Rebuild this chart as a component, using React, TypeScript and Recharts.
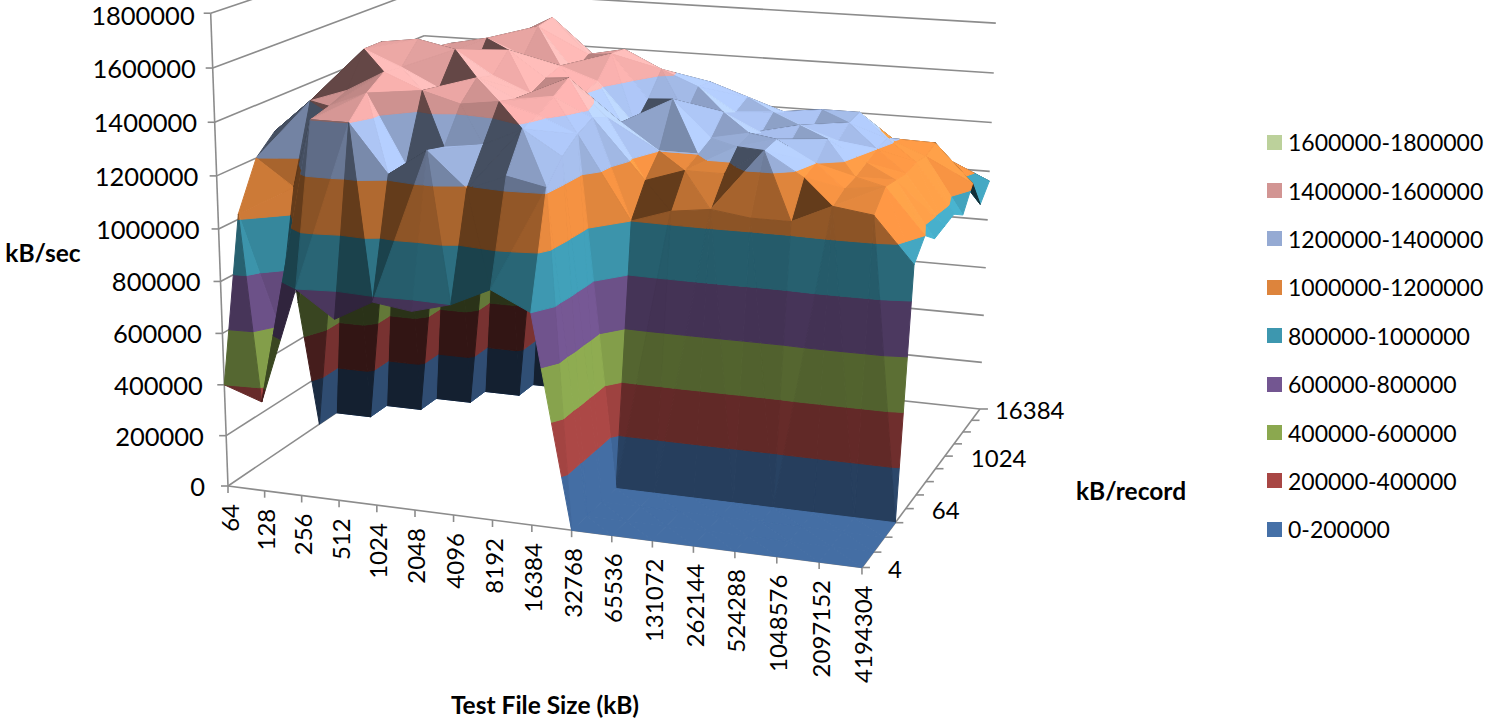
import React from "react";
import { ScatterChart, Scatter, XAxis, YAxis, Legend } from "recharts";

const WIDTH = 1486;
const HEIGHT = 720;
const FONT = "Lato, Carlito, sans-serif";

const fileSizes = ["64", "128", "256", "512", "1024", "2048", "4096", "8192", "16384", "32768", "65536", "131072", "262144", "524288", "1048576", "2097152", "4194304"];
const recordLabels = ["4", "64", "1024", "16384"];
const recordLabelSteps = [0, 4, 8, 12];
const valueTicks = [0, 200000, 400000, 600000, 800000, 1000000, 1200000, 1400000, 1600000, 1800000];

// kB/sec per file size, one list per record size
const rec4 = [400000, 350000, 800000, 700000, 780000, 760000, 800000, 870000, 800000, 0, 0, 0, 0, 0, 0, 0, 0];
const rec8 = [1020000, 600000, 1400000, 1400000, 1220000, 1320000, 1190000, 1250000, 1220000, 0, 0, 0, 0, 0, 0, 0, 0];
const rec16 = [1200000, 1100000, 1420000, 1480000, 1220000, 1300000, 1320000, 1390000, 1300000, 0, 0, 0, 0, 0, 0, 0, 0];
const rec32 = [1270000, 1400000, 1450000, 1530000, 1470000, 1430000, 1450000, 1410000, 1350000, 0, 0, 0, 0, 0, 0, 0, 0];
const rec64 = [550000, 1430000, 1580000, 1520000, 1450000, 1500000, 1430000, 1450000, 1380000, 1000000, 1050000, 1070000, 1050000, 1050000, 1120000, 1100000, 930000];
const rec128 = [0, 1450000, 1580000, 1600000, 1570000, 1480000, 1420000, 1490000, 1350000, 1120000, 1170000, 1170000, 1270000, 1180000, 1150000, 1170000, 1000000];
const rec256 = [0, 0, 1500000, 1500000, 1440000, 1550000, 1450000, 1400000, 1300000, 1200000, 1200000, 1240000, 1280000, 1200000, 1160000, 1160000, 950000];
const rec512 = [0, 0, 0, 1530000, 1560000, 1500000, 1470000, 1420000, 1260000, 1370000, 1230000, 1260000, 1220000, 1260000, 1180000, 1150000, 960000];
const rec1024 = [0, 0, 0, 0, 1520000, 1590000, 1420000, 1500000, 1330000, 1280000, 1300000, 1230000, 1270000, 1220000, 1200000, 1160000, 970000];
const rec2048 = [0, 0, 0, 0, 0, 1600000, 1460000, 1490000, 1420000, 1360000, 1270000, 1280000, 1220000, 1260000, 1210000, 1150000, 930000];
const rec4096 = [0, 0, 0, 0, 0, 0, 1400000, 1420000, 1350000, 1350000, 1300000, 1250000, 1270000, 1270000, 1150000, 1170000, 1020000];
const rec8192 = [0, 0, 0, 0, 0, 0, 0, 1300000, 1250000, 1200000, 1200000, 1150000, 1150000, 1150000, 1100000, 1080000, 900000];
const rec16384 = [0, 0, 0, 0, 0, 0, 0, 0, 1100000, 1100000, 1080000, 1070000, 1050000, 1050000, 1020000, 1000000, 960000];
const surface = [rec4, rec8, rec16, rec32, rec64, rec128, rec256, rec512, rec1024, rec2048, rec4096, rec8192, rec16384];

const bandLabels = ["0-200000", "200000-400000", "400000-600000", "600000-800000", "800000-1000000", "1000000-1200000", "1200000-1400000", "1400000-1600000", "1600000-1800000"];
const bandColors = ["#4570a7", "#a84644", "#8ba84f", "#735691", "#3d97af", "#dd843c", "#95aad3", "#d29593", "#bcd19b"];
// the surface is a bit stronger than the legend swatches in the upper bands
const bandGain = [0.96, 1, 1, 1, 1.04, 1.08, 1.1, 1.13, 1.13];

// camera of the 3d box, fitted on the corners of the floor and the wall ticks
const FLOOR = { x0: 228, y0: 486, ax: 565.4, bx: 272.9, ay: 36.36, by: -77.32, g: -0.07954, i: 0.16767 };
const RISE = { x: -15.1, y: -263, w: -0.026 };

type P3 = { u: number; v: number; h: number };
type P2 = { x: number; y: number };

function project({ u, v, h }: P3): P2 {
  const m = h / 1000000;
  const w = 1 + FLOOR.g * u + FLOOR.i * v + RISE.w * m;
  return {
    x: (FLOOR.x0 + FLOOR.ax * u + FLOOR.bx * v + RISE.x * m) / w,
    y: (FLOOR.y0 + FLOOR.ay * u + FLOOR.by * v + RISE.y * m) / w,
  };
}

function clipBand(tri: P3[], lo: number, hi: number) {
  const cut = (poly: P3[], inside: (p: P3) => boolean, level: number) => {
    const out: P3[] = [];
    poly.forEach((a, n) => {
      const b = poly[(n + 1) % poly.length];
      if (inside(a)) out.push(a);
      if (inside(a) !== inside(b)) {
        const t = (level - a.h) / (b.h - a.h);
        out.push({ u: a.u + (b.u - a.u) * t, v: a.v + (b.v - a.v) * t, h: level });
      }
    });
    return out;
  };
  let poly = cut(tri, (p) => p.h >= lo, lo);
  if (poly.length) poly = cut(poly, (p) => p.h <= hi, hi);
  return poly;
}

function tint(color: string, f: number) {
  const n = parseInt(color.slice(1), 16);
  const ch = (v: number) => Math.min(255, Math.round(v * f));
  return `rgb(${ch(n >> 16)},${ch((n >> 8) & 255)},${ch(n & 255)})`;
}

function faceLight(tri: P3[]) {
  const [a, b, c] = tri;
  const d1 = [b.u - a.u, (b.v - a.v) * 0.75, ((b.h - a.h) / 1000000) * 0.33];
  const d2 = [c.u - a.u, (c.v - a.v) * 0.75, ((c.h - a.h) / 1000000) * 0.33];
  const n = [d1[1] * d2[2] - d1[2] * d2[1], d1[2] * d2[0] - d1[0] * d2[2], d1[0] * d2[1] - d1[1] * d2[0]];
  const len = Math.hypot(n[0], n[1], n[2]) || 1;
  const nx = n[0] / len;
  const ny = n[1] / len;
  const dot = nx * 0.55 + ny * 0.25 + (n[2] / len) * 0.8;
  const pa = project(a);
  const pb = project(b);
  const pc = project(c);
  const front = (pb.x - pa.x) * (pc.y - pa.y) - (pb.y - pa.y) * (pc.x - pa.x) < 0;
  if (!front) return 0.3 + 2.5 * Math.max(0, -dot - 0.28);
  // faces tilted away from the light on both axes fall into shadow
  if (nx < 0 && ny < 0 && nx * ny > 0.09) return 0.42;
  return Math.max(0.58 + 0.45 * Math.abs(nx), 0.42 + 0.75 * dot);
}

type Face = { size: number; fill: string };
const faces: Face[] = [];
const facePoints: P2[] = [];

function addTriangle(tri: P3[]) {
  const light = faceLight(tri);
  bandColors.forEach((color, b) => {
    const poly = clipBand(tri, b * 200000, (b + 1) * 200000);
    if (poly.length < 3) return;
    faces.push({ size: poly.length, fill: tint(color, light * bandGain[b]) });
    poly.forEach((p) => facePoints.push(project(p)));
  });
}

const vertex = (i: number, j: number): P3 => ({ u: i / 16, v: j / 12, h: surface[j][i] });
const CENTER = 9;
const columnOrder = fileSizes
  .slice(1)
  .map((_, i) => i)
  .sort((a, b) => Math.abs(b + 0.5 - CENTER) - Math.abs(a + 0.5 - CENTER));

for (let j = surface.length - 2; j >= 0; j--) {
  columnOrder.forEach((i) => {
    // each cell is split along its higher diagonal
    const a = vertex(i, j);
    const b = vertex(i + 1, j);
    const c = vertex(i + 1, j + 1);
    const d = vertex(i, j + 1);
    if (b.h + d.h >= a.h + c.h) {
      addTriangle([b, c, d]);
      addTriangle([a, b, d]);
    } else {
      addTriangle([a, c, d]);
      addTriangle([a, b, c]);
    }
  });
}

const framePoints: P2[] = [];
const seg = (a: P2, b: P2) => framePoints.push(a, b);
const shift = (p: P2, dx: number, dy: number) => ({ x: p.x + dx, y: p.y + dy });

valueTicks.forEach((t) => {
  const front = project({ u: 0, v: 0, h: t });
  const rear = project({ u: 0, v: 1, h: t });
  const right = project({ u: 1, v: 1, h: t });
  seg(front, rear);
  seg(rear, right);
  seg(shift(front, -7, 0), front);
});
seg(project({ u: 0, v: 0, h: 0 }), project({ u: 0, v: 0, h: 1800000 }));
seg(project({ u: 0, v: 0, h: 0 }), project({ u: 1, v: 0, h: 0 }));
seg(project({ u: 1, v: 0, h: 0 }), project({ u: 1, v: 1, h: 0 }));
fileSizes.forEach((_, i) => {
  const p = project({ u: i / 16, v: 0, h: 0 });
  seg(p, shift(p, 0, 7));
});
surface.forEach((_, j) => {
  const p = project({ u: 1, v: j / 12, h: 0 });
  seg(p, shift(p, 8, 0));
});

type Caption = P2 & { text: string; kind: string };
const captions: Caption[] = [
  ...valueTicks.map((t) => ({
    ...shift(project({ u: 0, v: 0, h: t }), -23 + (7 * t) / 1800000, t === 1800000 ? 2 : 0),
    text: String(t),
    kind: "value",
  })),
  ...fileSizes.map((f, i) => ({ ...shift(project({ u: i / 16, v: 0, h: 0 }), 1, 18), text: f, kind: "file" })),
  ...recordLabels.map((r, n) => ({
    ...shift(project({ u: 1, v: recordLabelSteps[n] / 12, h: 0 }), n === 3 ? 15 : 26, 1),
    text: r,
    kind: "record",
  })),
  { x: 43, y: 252, text: "kB/sec", kind: "title" },
  { x: 545, y: 704, text: "Test File Size (kB)", kind: "title" },
  { x: 1131, y: 490, text: "kB/record", kind: "title" },
];

function SurfaceFaces({ points = [] }: { points?: P2[] }) {
  let at = 0;
  return (
    <g>
      {faces.map((f, n) => {
        const pts = points.slice(at, at + f.size);
        at += f.size;
        return (
          <polygon
            key={n}
            points={pts.map((p) => `${p.x},${p.y}`).join(" ")}
            fill={f.fill}
            stroke={f.fill}
            strokeWidth={1}
            strokeLinejoin="round"
          />
        );
      })}
    </g>
  );
}

function FrameLines({ points = [] }: { points?: P2[] }) {
  const lines = [];
  for (let n = 0; n + 1 < points.length; n += 2) {
    lines.push(
      <line key={n} x1={points[n].x} y1={points[n].y} x2={points[n + 1].x} y2={points[n + 1].y} stroke="#8c8c8c" strokeWidth={1.6} />
    );
  }
  return <g>{lines}</g>;
}

function CaptionText(props: any) {
  const { cx, cy, payload } = props;
  const { text, kind } = payload;
  const base = { fontFamily: FONT, fill: "#000" };
  if (kind === "value") {
    return <text {...base} x={cx} y={cy} fontSize={25.5} textAnchor="end" dominantBaseline="central">{text}</text>;
  }
  if (kind === "file") {
    return (
      <text {...base} x={cx} y={cy} fontSize={24} textAnchor="end" dominantBaseline="central" transform={`rotate(-90 ${cx} ${cy})`}>
        {text}
      </text>
    );
  }
  if (kind === "record") {
    return <text {...base} x={cx} y={cy} fontSize={24} dominantBaseline="central">{text}</text>;
  }
  return <text {...base} x={cx} y={cy} fontSize={24.5} fontWeight={700} textAnchor="middle" dominantBaseline="central">{text}</text>;
}

function BandLegend() {
  return (
    <div style={{ fontFamily: FONT, fontSize: 23, color: "#000" }}>
      {bandLabels
        .map((label, b) => ({ label, color: bandColors[b] }))
        .reverse()
        .map((item) => (
          <div key={item.label} style={{ display: "flex", alignItems: "center", height: 48.4, whiteSpace: "nowrap" }}>
            <span style={{ width: 15, height: 15, flexShrink: 0, background: item.color, marginRight: 6 }} />
            {item.label}
          </div>
        ))}
    </div>
  );
}

const hidden = () => <g />;

export default function App() {
  return (
    <div style={{ position: "absolute", left: 0, top: 0, width: WIDTH, height: HEIGHT, overflow: "hidden" }}>
      <ScatterChart width={WIDTH} height={HEIGHT} margin={{ top: 0, right: 0, bottom: 0, left: 0 }}>
        <XAxis type="number" dataKey="x" domain={[0, WIDTH]} allowDataOverflow hide />
        <YAxis type="number" dataKey="y" domain={[0, HEIGHT]} allowDataOverflow reversed hide />
        <Legend
          layout="vertical"
          align="center"
          verticalAlign="middle"
          content={<BandLegend />}
          wrapperStyle={{ left: 1267, top: 118, width: 225 }}
        />
        <Scatter data={framePoints} line={<FrameLines />} shape={hidden} isAnimationActive={false} />
        <Scatter data={facePoints} line={<SurfaceFaces />} shape={hidden} isAnimationActive={false} />
        <Scatter data={captions} shape={<CaptionText />} isAnimationActive={false} />
      </ScatterChart>
    </div>
  );
}
